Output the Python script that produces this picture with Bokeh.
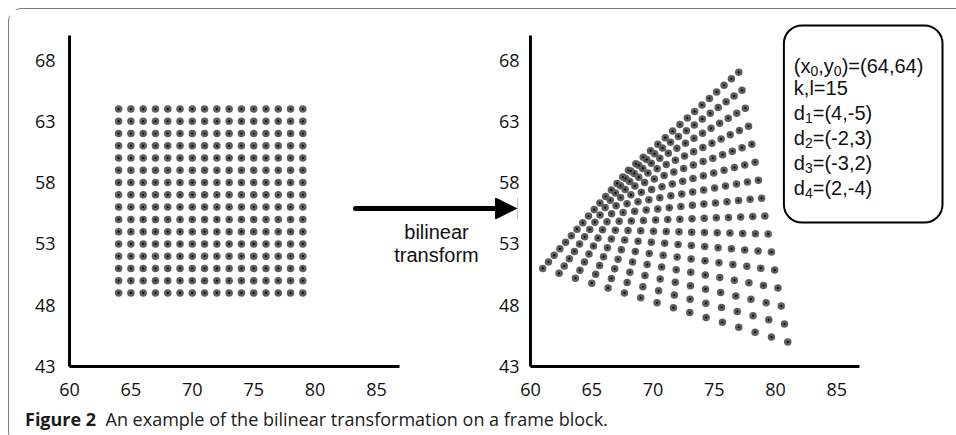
from bokeh.plotting import figure
from bokeh.layouts import row, column
from bokeh.models import (Range1d, FixedTicker, BoxAnnotation, Arrow, NormalHead, OpenHead,
                          Div, ColumnDataSource)
from bokeh.core.properties import value
from bokeh.embed import file_html
from bokeh.resources import INLINE

# ---------------- data ----------------
grid_x = [64, 65, 66, 67, 68, 69, 70, 71, 72, 73, 74, 75, 76, 77, 78, 79]
grid_y = [49, 50, 51, 52, 53, 54, 55, 56, 57, 58, 59, 60, 61, 62, 63, 64]
block_origin = (64, 64)      # (x0, y0): top-left corner of the block
block_size = 15              # k, l
d1 = (4, -5)                 # top-left corner displacement
d2 = (-2, 3)                 # top-right corner displacement
d3 = (-3, 2)                 # bottom-left corner displacement
d4 = (2, -4)                 # bottom-right corner displacement
x_ticks = [60, 65, 70, 75, 80, 85]
y_ticks = [43, 48, 53, 58, 63, 68]
caption_bold = "Figure 2"
caption_text = "An example of the bilinear transformation on a frame block."
arrow_label = ["bilinear", "transform"]

orig_x, orig_y = [], []
for gy in grid_y:
    for gx in grid_x:
        orig_x.append(gx)
        orig_y.append(gy)

# bilinear transform of each block point from the four corner displacements
x0, y0 = block_origin
new_x, new_y = [], []
for gx, gy in zip(orig_x, orig_y):
    u = (gx - x0) / block_size
    v = (y0 - gy) / block_size
    w1, w2, w3, w4 = (1 - u) * (1 - v), u * (1 - v), (1 - u) * v, u * v
    new_x.append(gx + w1 * d1[0] + w2 * d2[0] + w3 * d3[0] + w4 * d4[0])
    new_y.append(gy + w1 * d1[1] + w2 * d2[1] + w3 * d3[1] + w4 * d4[1])

# ---------------- layout constants (page pixels) ----------------
PXX = 12.28
PXY = 12.26
X0, Y0 = 60, 43
X_AXIS_END = 86.87
Y_AXIS_END = 70.0
FIG_H = 391
MB_TOP = 11
MB_BOTTOM = 34
frame_h = FIG_H - MB_TOP - MB_BOTTOM
Y_END = Y0 + frame_h / PXY
LEFT_FRAME_PX = 69
RIGHT_FRAME_PX = 529
BASE_PX_Y = 366
SPLIT_PX = 495          # page x where the left canvas ends and the right one begins


def yd(py):
    return Y0 + (BASE_PX_Y - py) / PXY


def make_panel(width, mb_left, mb_right, ystandoff):
    frame_w = width - mb_left - mb_right
    x_end = X0 + frame_w / PXX
    p = figure(width=width, height=FIG_H,
               x_range=Range1d(X0, x_end), y_range=Range1d(Y0, Y_END),
               output_backend="svg", toolbar_location=None,
               min_border_left=mb_left, min_border_right=mb_right,
               min_border_top=MB_TOP, min_border_bottom=MB_BOTTOM,
               background_fill_color="white", border_fill_color="white",
               outline_line_color=None)
    p.grid.visible = False
    for ax, ticks, bounds in ((p.xaxis[0], x_ticks, (X0, X_AXIS_END)),
                              (p.yaxis[0], y_ticks, (Y0, Y_AXIS_END))):
        ax.ticker = FixedTicker(ticks=ticks)
        ax.bounds = bounds
        ax.axis_line_width = 3
        ax.axis_line_color = "black"
        ax.major_tick_line_color = None
        ax.minor_tick_line_color = None
        ax.major_tick_out = 0
        ax.major_tick_in = 0
        ax.minor_tick_out = 0
        ax.minor_tick_in = 0
        ax.major_label_text_font = "Open Sans"
        ax.major_label_text_font_size = "18px"
        ax.major_label_text_color = "#111111"
    p.yaxis.major_label_standoff = ystandoff
    p.xaxis.major_label_standoff = 16
    return p, x_end


def draw_points(p, xs, ys):
    p.scatter(xs, ys, size=7.5, fill_color="#5e5e5e", line_color=None)
    p.scatter(xs, ys, size=2.2, fill_color="#000000", line_color=None)


# ---------------- left panel ----------------
left_w = SPLIT_PX - 9
left, left_xend = make_panel(left_w, LEFT_FRAME_PX - 9, 0, 14)
draw_points(left, orig_x, orig_y)

arrow_py = 208
arrow_y = yd(arrow_py)
left.line([X0 + (355 - LEFT_FRAME_PX) / PXX, left_xend + 2], [arrow_y, arrow_y],
          line_width=5, line_color="black", line_cap="round")
left.text(x=[X0 + (436 - LEFT_FRAME_PX) / PXX] * 2,
          y=[yd(231), yd(254)],
          text=arrow_label, text_align="center", text_baseline="middle",
          text_font=value("Liberation Sans"), text_font_size="20px", text_color="#111111")

# ---------------- right panel ----------------
right_w = 948 - SPLIT_PX
right, right_xend = make_panel(right_w, RIGHT_FRAME_PX - SPLIT_PX, 2, 11)
draw_points(right, new_x, new_y)


def xr(px):
    return X0 + (px - RIGHT_FRAME_PX) / PXX


# arrow head: black head block, then a white overlay leaves the triangular head
HEAD = 24
TIP = 516
right.add_layout(Arrow(end=NormalHead(size=HEAD, fill_color="black", line_color="black"),
                       x_start=xr(TIP - HEAD + 1), y_start=arrow_y, x_end=xr(TIP), y_end=arrow_y,
                       line_width=HEAD - 3, line_color="black", line_cap="butt"))
right.add_layout(Arrow(end=OpenHead(size=HEAD, line_color="white", line_width=1),
                       x_start=xr(470), y_start=arrow_y, x_end=xr(TIP), y_end=arrow_y,
                       line_width=HEAD + 8, line_color="white"))

right.add_layout(BoxAnnotation(left=xr(783), right=xr(942), top=yd(25), bottom=yd(222),
                               fill_color=None, fill_alpha=0, line_color="black",
                               line_alpha=1.0, line_width=2, border_radius=18))

ARIAL = {'(': .333, ')': .333, 'x': .5, 'y': .5, ',': .278, '=': .584, '-': .333,
         'd': .556, 'k': .5, 'l': .222}


def tw(s, size):
    return sum(ARIAL.get(c, .556) for c in s) * size


info_lines = [
    f"(x_{0},y_{0})=({x0},{y0})",
    f"k,l={block_size}",
    f"d_1=({d1[0]},{d1[1]})",
    f"d_2=({d2[0]},{d2[1]})",
    f"d_3=({d3[0]},{d3[1]})",
    f"d_4=({d4[0]},{d4[1]})",
]
line_px = [65, 87.5, 112.5, 137.5, 162.5, 187.5]
MAIN, SUB = 20, 14
anchor_x = xr(793)
main = dict(x=[], y=[], text=[], xo=[])
sub = dict(x=[], y=[], text=[], xo=[])
for line, py in zip(info_lines, line_px):
    yy = yd(py)
    pieces = []
    buf = ""
    i = 0
    while i < len(line):
        if line[i] == "_":
            if buf:
                pieces.append((buf, False))
                buf = ""
            pieces.append((line[i + 1], True))
            i += 2
        else:
            buf += line[i]
            i += 1
    if buf:
        pieces.append((buf, False))
    off = 0.0
    for txt, is_sub in pieces:
        tgt = sub if is_sub else main
        tgt["x"].append(anchor_x)
        tgt["y"].append(yy)
        tgt["text"].append(txt)
        tgt["xo"].append(off)
        off += tw(txt, SUB if is_sub else MAIN)

right.text(x="x", y="y", text="text", x_offset="xo", source=ColumnDataSource(main),
           text_align="left", text_baseline="middle",
           text_font=value("Liberation Sans"), text_font_size=f"{MAIN}px", text_color="#111111")
right.text(x="x", y="y", text="text", x_offset="xo", y_offset=5, source=ColumnDataSource(sub),
           text_align="left", text_baseline="middle",
           text_font=value("Liberation Sans"), text_font_size=f"{SUB}px", text_color="#111111")

# ---------------- caption ----------------
cap = Div(text=(f'<div style="margin-left:11px; padding-top:2px; font-family:\'Open Sans\'; '
                f'font-size:18px; line-height:24px; color:#1a1a1a; white-space:nowrap;">'
                f'<b>{caption_bold}</b>&nbsp;&nbsp;{caption_text}</div>'),
          width=947, height=34)

layout = column(row(left, right), cap,
                styles={"margin-left": "8px", "margin-top": "8px",
                        "border-top": "1px solid #7a7a7a", "border-left": "1px solid #7a7a7a",
                        "border-bottom": "1px solid #7a7a7a",
                        "border-top-left-radius": "14px", "border-bottom-left-radius": "14px"})

open("out.html", "w").write(file_html(layout, INLINE, title="bilinear transform"))
